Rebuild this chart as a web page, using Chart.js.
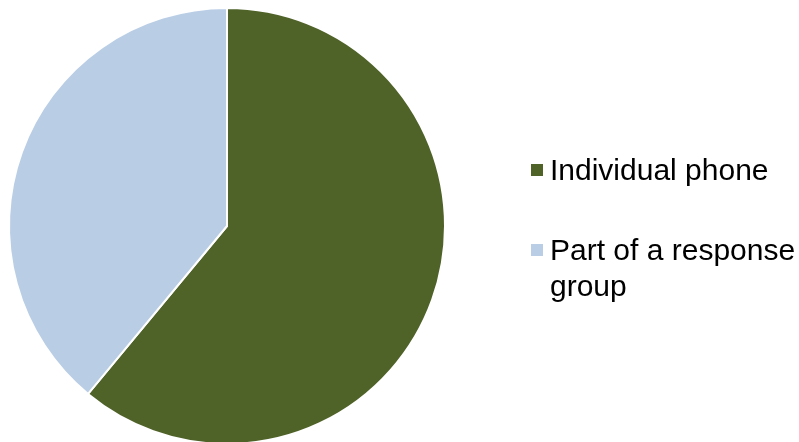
<!DOCTYPE html>
<html>
<head>
<meta charset="utf-8">
<script src="https://cdn.jsdelivr.net/npm/chart.js@4.4.1/dist/chart.umd.min.js"></script>
<style>
  html, body { margin: 0; padding: 0; background: #fff; overflow: hidden; }
  #page { position: relative; width: 799px; height: 442px; overflow: hidden; }
  #wrap { position: absolute; left: 0; top: 0; width: 799px; height: 452px; }
  #legend { position: absolute; left: 531px; top: 0; font-family: "Liberation Sans", Arial, sans-serif; font-size: 30px; color: #000; }
  .item { position: absolute; left: 0; width: 270px; line-height: 36px; }
  .box { position: absolute; left: 0; width: 12px; height: 12px; }
  .txt { position: absolute; left: 19px; width: 255px; }
</style>
</head>
<body>
<div id="page">
  <div id="wrap"><canvas id="pie"></canvas></div>
  <div id="legend"></div>
</div>
<script>
// share of responses
const categories = ["Individual phone", "Part of a response group"];
const shares = [61, 39];
const sliceColors = ["#4F6228", "#B9CDE5"];

// legend rows (top offset in px)
const legendTops = [152, 232];

function buildLegend() {
    const legend = document.getElementById('legend');
    legend.innerHTML = categories.map((c, i) => `
        <div class="item" style="top:${legendTops[i]}px">
            <div class="box" style="top:12px;background:${sliceColors[i]}"></div>
            <div class="txt">${c}</div>
        </div>
    `).join('');
}

function buildChart() {
    new Chart(document.getElementById('pie'), {
        type: 'pie',
        data: {
            labels: categories,
            datasets: [{
                data: shares,
                backgroundColor: sliceColors,
                borderColor: '#ffffff',
                borderWidth: 2
            }]
        },
        options: {
            responsive: true,
            maintainAspectRatio: false,
            animation: false,
            layout: { padding: { left: 8, top: 7, right: 353, bottom: 7 } },
            plugins: { legend: { display: false }, tooltip: { enabled: false } }
        }
    });
}

buildLegend();
buildChart();
</script>
</body>
</html>
